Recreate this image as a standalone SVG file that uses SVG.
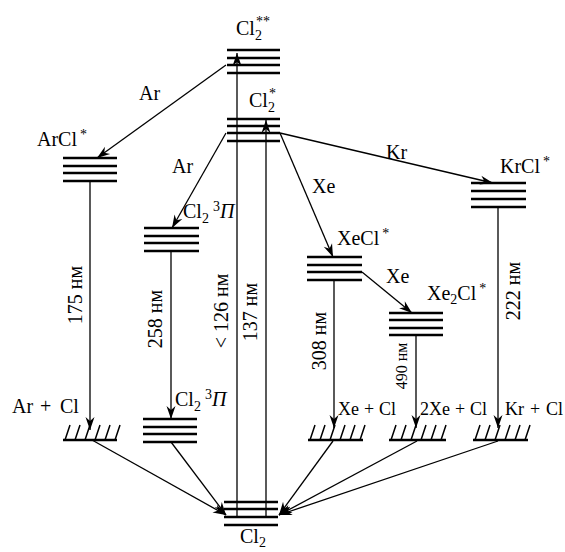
<svg xmlns="http://www.w3.org/2000/svg" width="565" height="552" viewBox="0 0 565 552">
<style>
text{font-family:"Liberation Serif",Tinos,"Noto Serif","FreeSerif","Times New Roman",Times,serif;font-size:20px;fill:#000}
.lv line{stroke:#000;stroke-width:2.6}
.hb{stroke:#000;stroke-width:2.6}
.tk{stroke:#000;stroke-width:1.5}
.c{stroke:#000;stroke-width:1.3;fill:none}
.a{marker-end:url(#ah)}
.sub{font-size:14px}
.sm{font-size:16px}
.bl{font-size:18px}
</style>
<defs>
<marker id="ah" viewBox="-14 -6 16 12" refX="0" refY="0" markerWidth="16" markerHeight="12" markerUnits="userSpaceOnUse" orient="auto">
<path d="M0,0 L-13,-4.5 L-9,0 L-13,4.5 Z" fill="#000"/>
</marker>
</defs>

<g id="cl2ss" class="lv">
<line x1="227" y1="50" x2="280" y2="50"/><line x1="227" y1="58" x2="280" y2="58"/><line x1="227" y1="65" x2="280" y2="65"/><line x1="227" y1="73" x2="280" y2="73"/>
<text x="236" y="35">Cl<tspan class="sub" dy="5">2</tspan><tspan class="sub" dx="-6" dy="-14">**</tspan></text>
</g>
<g id="cl2s" class="lv">
<line x1="227" y1="119" x2="280" y2="119"/><line x1="227" y1="126" x2="280" y2="126"/><line x1="227" y1="133" x2="280" y2="133"/><line x1="227" y1="141" x2="280" y2="141"/>
<text x="249" y="107">Cl<tspan class="sub" dy="5">2</tspan><tspan class="sub" dx="-6" dy="-14">*</tspan></text>
</g>
<g id="arcl" class="lv">
<line x1="63" y1="158" x2="117" y2="158"/><line x1="63" y1="166" x2="117" y2="166"/><line x1="63" y1="173" x2="117" y2="173"/><line x1="63" y1="181" x2="117" y2="181"/>
<text x="37" y="146">ArCl<tspan class="sub" dx="3" dy="-7">*</tspan></text>
</g>
<g id="cl2pi_up" class="lv">
<line x1="144" y1="228" x2="199" y2="228"/><line x1="144" y1="236" x2="199" y2="236"/><line x1="144" y1="243" x2="199" y2="243"/><line x1="144" y1="251" x2="199" y2="251"/>
<text x="183" y="218" font-size="18">Cl<tspan class="sub" dy="5">2</tspan><tspan class="sub" dx="4" dy="-12">3</tspan><tspan dy="7" font-style="italic">Π</tspan></text>
</g>
<g id="krcl" class="lv">
<line x1="471" y1="183" x2="526" y2="183"/><line x1="471" y1="191" x2="526" y2="191"/><line x1="471" y1="199" x2="526" y2="199"/><line x1="471" y1="207" x2="526" y2="207"/>
<text x="500" y="173">KrCl<tspan class="sub" dx="3" dy="-7">*</tspan></text>
</g>
<g id="xecl" class="lv">
<line x1="307" y1="257" x2="362" y2="257"/><line x1="307" y1="265" x2="362" y2="265"/><line x1="307" y1="272" x2="362" y2="272"/><line x1="307" y1="280" x2="362" y2="280"/>
<text x="337" y="245">XeCl<tspan class="sub" dx="3" dy="-7">*</tspan></text>
</g>
<g id="xe2cl" class="lv">
<line x1="389" y1="313" x2="443" y2="313"/><line x1="389" y1="320" x2="443" y2="320"/><line x1="389" y1="328" x2="443" y2="328"/><line x1="389" y1="335" x2="443" y2="335"/>
<text x="427" y="300">Xe<tspan class="sub" dy="4">2</tspan><tspan dy="-4">Cl</tspan><tspan class="sub" dx="3" dy="-7">*</tspan></text>
</g>
<g id="cl2pi_low" class="lv">
<line x1="143" y1="419" x2="197" y2="419"/><line x1="143" y1="427" x2="197" y2="427"/><line x1="143" y1="434" x2="197" y2="434"/><line x1="143" y1="442" x2="197" y2="442"/>
<text x="175" y="406" font-size="18">Cl<tspan class="sub" dy="5">2</tspan><tspan class="sub" dx="4" dy="-12">3</tspan><tspan dy="7" font-style="italic">Π</tspan></text>
</g>
<g id="cl2" class="lv">
<line x1="224" y1="502" x2="278" y2="502"/><line x1="224" y1="509" x2="278" y2="509"/><line x1="224" y1="517" x2="278" y2="517"/><line x1="224" y1="525" x2="278" y2="525"/>
<text x="240" y="543">Cl<tspan class="sub" dy="4">2</tspan></text>
</g>

<g id="arcl_cont">
<line class="hb" x1="63" y1="440" x2="117" y2="440"/>
<path class="tk" d="M65,440 L70,425 M75,440 L80,425 M85,440 L90,425 M95,440 L100,425 M105,440 L110,425 M115,440 L120,425"/>
<text y="413"><tspan x="12">Ar</tspan><tspan x="40">+</tspan><tspan x="60">Cl</tspan></text>
</g>
<g id="xecl_cont">
<line class="hb" x1="308" y1="440" x2="363" y2="440"/>
<path class="tk" d="M310,440 L315,425 M320,440 L325,425 M330,440 L335,425 M340,440 L345,425 M350,440 L355,425 M360,440 L365,425"/>
<text y="415" class="bl"><tspan x="338">Xe</tspan><tspan x="364">+</tspan><tspan x="379">Cl</tspan></text>
</g>
<g id="xe2cl_cont">
<line class="hb" x1="389" y1="440" x2="446" y2="440"/>
<path class="tk" d="M391,440 L396,425 M401,440 L406,425 M411,440 L416,425 M421,440 L426,425 M431,440 L436,425 M441,440 L446,425"/>
<text y="415" class="bl"><tspan x="420">2Xe</tspan><tspan x="455">+</tspan><tspan x="470">Cl</tspan></text>
</g>
<g id="krcl_cont">
<line class="hb" x1="473" y1="440" x2="528" y2="440"/>
<path class="tk" d="M475,440 L480,425 M485,440 L490,425 M495,440 L500,425 M505,440 L510,425 M515,440 L520,425 M525,440 L530,425"/>
<text y="415" class="bl"><tspan x="505">Kr</tspan><tspan x="530">+</tspan><tspan x="546">Cl</tspan></text>
</g>

<g id="connectors">
<line class="c a" x1="237" y1="517" x2="237" y2="53"/>
<line class="c a" x1="266" y1="517" x2="266" y2="120"/>
<line class="c a" x1="226" y1="65" x2="97" y2="158"/>
<line class="c a" x1="226" y1="133" x2="172" y2="228"/>
<line class="c a" x1="280" y1="133" x2="333" y2="257"/>
<line class="c a" x1="280" y1="133" x2="493" y2="183"/>
<line class="c a" x1="362" y1="272" x2="412" y2="313"/>
<line class="c a" x1="90" y1="181" x2="90" y2="430"/>
<line class="c a" x1="171" y1="251" x2="171" y2="419"/>
<line class="c a" x1="334" y1="280" x2="334" y2="428"/>
<line class="c a" x1="416" y1="335" x2="416" y2="428"/>
<line class="c a" x1="498" y1="207" x2="498" y2="428"/>
<line class="c a" x1="92" y1="440" x2="226" y2="515"/>
<line class="c a" x1="171" y1="442" x2="226" y2="515"/>
<line class="c a" x1="333" y1="441" x2="279" y2="515"/>
<line class="c a" x1="417" y1="441" x2="279" y2="515"/>
<line class="c a" x1="498" y1="441" x2="279" y2="515"/>
<text x="139" y="100">Ar</text>
<text x="172" y="173">Ar</text>
<text x="386" y="159">Kr</text>
<text x="312" y="193">Xe</text>
<text x="386" y="283">Xe</text>
<text transform="translate(82,295) rotate(-90)" text-anchor="middle">175 нм</text>
<text transform="translate(162,319) rotate(-90)" text-anchor="middle">258 нм</text>
<text transform="translate(228,311) rotate(-90)" text-anchor="middle">&lt; 126 нм</text>
<text transform="translate(257,312) rotate(-90)" text-anchor="middle">137 нм</text>
<text transform="translate(326,341) rotate(-90)" text-anchor="middle">308 нм</text>
<text class="sm" transform="translate(407,366) rotate(-90)" text-anchor="middle">490 нм</text>
<text transform="translate(520,291) rotate(-90)" text-anchor="middle">222 нм</text>
</g>
</svg>
